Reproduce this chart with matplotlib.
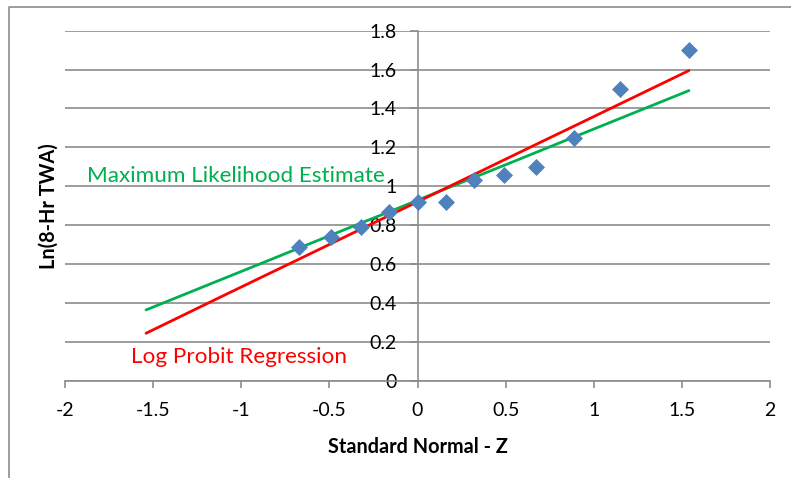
import matplotlib
matplotlib.use("Agg")
import matplotlib.pyplot as plt
from matplotlib.lines import Line2D

# Data
z_data = [-0.67, -0.49, -0.32, -0.16, 0.0, 0.16, 0.32, 0.49, 0.67, 0.89, 1.15, 1.54]
ln_twa = [0.69, 0.74, 0.79, 0.87, 0.92, 0.92, 1.03, 1.06, 1.10, 1.25, 1.50, 1.70]

z_line = [-1.54, -1.15, -0.89, -0.67, -0.49, -0.32, -0.16, 0.0, 0.16, 0.32, 0.49, 0.67, 0.89, 1.15, 1.54]
mle_line = [0.364, 0.507, 0.602, 0.683, 0.749, 0.811, 0.869, 0.928, 0.987, 1.045, 1.107, 1.173, 1.254, 1.349, 1.492]
probit_line = [0.244, 0.416, 0.530, 0.626, 0.705, 0.780, 0.850, 0.920, 0.990, 1.060, 1.135, 1.214, 1.310, 1.424, 1.595]

x_ticks = [-2, -1.5, -1, -0.5, 0, 0.5, 1, 1.5, 2]
x_tick_labels = ["-2", "-1.5", "-1", "-0.5", "0", "0.5", "1", "1.5", "2"]
y_ticks = [0, 0.2, 0.4, 0.6, 0.8, 1.0, 1.2, 1.4, 1.6, 1.8]
y_tick_labels = ["0", "0.2", "0.4", "0.6", "0.8", "1", "1.2", "1.4", "1.6", "1.8"]

plt.rcParams['font.family'] = ['Lato', 'DejaVu Sans']

W, H = 791, 478
fig = plt.figure(figsize=(W / 100, H / 100), dpi=100)
ax = fig.add_axes([65 / W, 1 - 380.7 / H, (770 - 65) / W, (380.7 - 30.7) / H])

grid_col = "#8c8c8c"
ax.set_xlim(-2, 2)
ax.set_ylim(0, 1.8)
for y in y_ticks:
    ax.axhline(y, color=grid_col, lw=1.2, zorder=1)

ax.plot(z_line, mle_line, color="#00B050", lw=2.0, zorder=3, solid_capstyle='round')
ax.plot(z_line, probit_line, color="#FF0000", lw=2.0, zorder=3, solid_capstyle='round')
ax.plot(z_data, ln_twa, linestyle='none', marker='D', ms=8, color="#4F81BD",
        markeredgecolor="#4F81BD", markeredgewidth=0.5, zorder=4)

ax.spines['top'].set_visible(False)
ax.spines['right'].set_visible(False)
ax.spines['left'].set_position(('data', 0))
for s in ('left', 'bottom'):
    ax.spines[s].set_color(grid_col)
    ax.spines[s].set_linewidth(1.2)

ax.set_xticks(x_ticks)
ax.set_xticklabels(x_tick_labels)
ax.set_yticks(y_ticks)
ax.set_yticklabels(y_tick_labels)
ax.tick_params(axis='x', direction='out', length=5, width=1.2, color=grid_col,
               labelsize=14, pad=10)
ax.tick_params(axis='y', direction='out', length=6, width=1.2, color=grid_col,
               labelsize=14, pad=9)

ax.set_xlabel("Standard Normal - Z", fontsize=14.3, fontweight='bold', labelpad=13)
ax.yaxis.set_label_coords(-0.009, 0.5)
ax.set_ylabel("Ln(8-Hr TWA)", fontsize=14.3, fontweight='bold')

ax.text(-1.878, 1.053, "Maximum Likelihood Estimate", color="#00B050", fontsize=16.2,
        ha='left', va='center', zorder=5)
ax.text(-1.623, 0.121, "Log Probit Regression", color="#FF0000", fontsize=16.2,
        ha='left', va='center', zorder=5)

# Chart-area border (cut off at right and bottom)
fig.add_artist(Line2D([9 / W, 9 / W, 1.0], [0.0, 1 - 7.3 / H, 1 - 7.3 / H],
                      transform=fig.transFigure, color="#8c8c8c", lw=1.2))

fig.savefig("out.png", dpi=100)
